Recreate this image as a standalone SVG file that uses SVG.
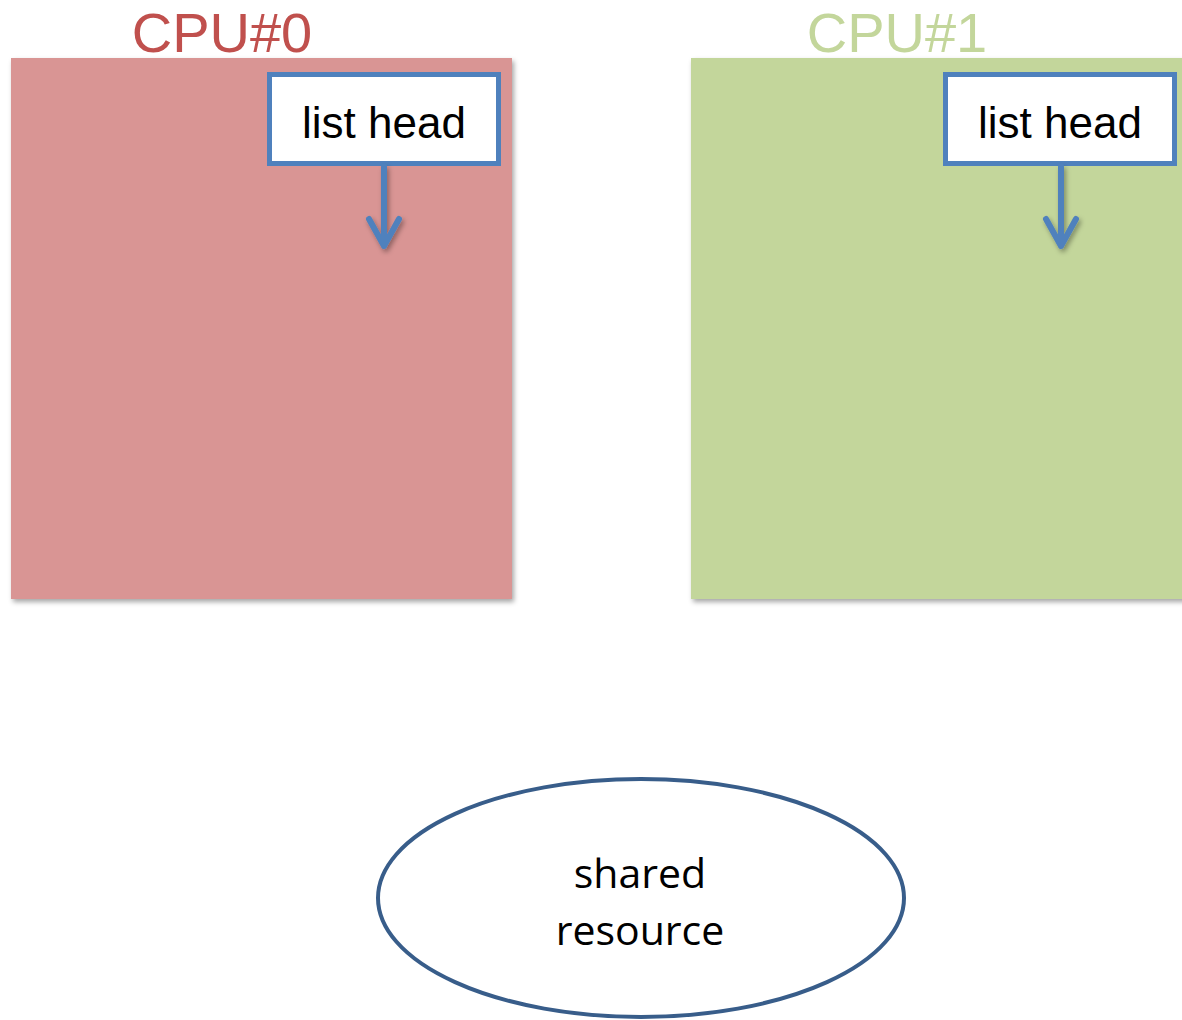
<svg xmlns="http://www.w3.org/2000/svg" width="1182" height="1020" viewBox="0 0 1182 1020">
  <style>
    .cpu-title { font-family: "Liberation Sans", Arial, sans-serif; font-size: 56px; text-anchor: middle; }
    .head-box { fill: #ffffff; stroke: #4F81BD; stroke-width: 5; }
    .head-label { font-family: "Liberation Sans", Arial, sans-serif; font-size: 44px; fill: #000000; text-anchor: middle; }
    .ptr { fill: none; stroke: #4F81BD; stroke-width: 6; stroke-linecap: round; stroke-linejoin: round; }
    .res-label { font-family: "Open Sans", "Noto Sans", sans-serif; font-size: 41px; fill: #000000; text-anchor: middle; }
  </style>
  <defs>
    <filter id="shadow" x="-10%" y="-10%" width="130%" height="130%">
      <feDropShadow dx="2" dy="3" stdDeviation="2.5" flood-color="#000000" flood-opacity="0.35"/>
    </filter>
  </defs>
  <rect width="1182" height="1020" fill="#ffffff"/>

  <!-- CPU#0 -->
  <g id="cpu0">
    <text class="cpu-title" x="222" y="52" fill="#C0504D">CPU#0</text>
    <rect x="11" y="58" width="501" height="541" fill="#D99594" filter="url(#shadow)"/>
  </g>
  <g id="cpu0-head">
    <rect class="head-box" x="269.5" y="74.5" width="229" height="89"/>
    <text class="head-label" x="384" y="138">list head</text>
  </g>

  <!-- CPU#1 -->
  <g id="cpu1">
    <text class="cpu-title" x="897" y="52" fill="#C3D69B">CPU#1</text>
    <rect x="691" y="58" width="520" height="541" fill="#C3D69B" filter="url(#shadow)"/>
  </g>
  <g id="cpu1-head">
    <rect class="head-box" x="945.5" y="74.5" width="229" height="89"/>
    <text class="head-label" x="1060" y="138">list head</text>
  </g>

  <!-- shared resource -->
  <g id="shared-resource">
    <ellipse cx="641" cy="898" rx="263" ry="119" fill="#ffffff" stroke="#385D8A" stroke-width="4"/>
    <text class="res-label" x="640" y="888">shared</text>
    <text class="res-label" x="640" y="945">resource</text>
  </g>

  <!-- list head pointers -->
  <g id="connectors" filter="url(#shadow)">
    <path class="ptr" d="M384 167 V246 M369 219 L384 246 L399 219"/>
    <path class="ptr" d="M1061 167 V246 M1046 219 L1061 246 L1076 219"/>
  </g>
</svg>
